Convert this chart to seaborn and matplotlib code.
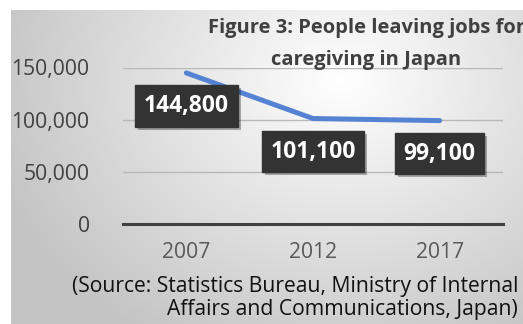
import numpy as np
import pandas as pd
import matplotlib
matplotlib.use("Agg")
import matplotlib.pyplot as plt
import seaborn as sns

years = ["2007", "2012", "2017"]
values = [144800, 101100, 99100]
value_labels = ["144,800", "101,100", "99,100"]
ytick_values = [0, 50000, 100000, 150000]
ytick_labels = ["0", "50,000", "100,000", "150,000"]
title_text = "Figure 3: People leaving jobs for\ncaregiving in Japan"
source_text = "(Source: Statistics Bureau, Ministry of Internal\nAffairs and Communications, Japan)"

sns.set_theme(style="white")
plt.rcParams['font.family'] = ['Open Sans', 'DejaVu Sans']

W, H = 523, 324
fig = plt.figure(figsize=(W / 100, H / 100), dpi=100)

# background gradient panel
bg = fig.add_axes([0, 0, 1, 1], zorder=0)
bg.set_axis_off()
yy, xx = np.mgrid[0:H, 0:W]
cx, cy, rx, ry = 340.0, 80.0, 360.0, 300.0
d = np.sqrt(((xx - cx) / rx) ** 2 + ((yy - cy) / ry) ** 2)
g = 1 - 0.23 * np.clip(d, 0, 1)
g[(xx < 11) | (yy < 10)] = 1.0
img = np.dstack([g, g, g])
bg.imshow(img, extent=[0, W, H, 0], aspect="auto", interpolation="bilinear")
bg.set_xlim(0, W)
bg.set_ylim(H, 0)

left = 123 / W
right = 503 / W
bottom = (H - 224) / H
top = (H - 67.5) / H
ax = fig.add_axes([left, bottom, right - left, top - bottom], zorder=1)
ax.patch.set_alpha(0)

df = pd.DataFrame({"year": years, "value": values})
sns.lineplot(data=df, x="year", y="value", ax=ax, color="#5682D4", linewidth=3.6,
             solid_capstyle="round", sort=False)

ax.set_xlim(-0.5, 2.5)
ax.set_ylim(0, 150000)
ax.set_yticks(ytick_values)
ax.set_yticklabels(ytick_labels)
ax.set_xlabel("")
ax.set_ylabel("")
for s in ["top", "right", "left"]:
    ax.spines[s].set_visible(False)
ax.spines["bottom"].set_color("#404040")
ax.spines["bottom"].set_linewidth(2.2)
ax.spines["bottom"].set_zorder(3)
ax.yaxis.grid(True, color="#b8b8b8", linewidth=1.0)
ax.set_axisbelow(True)
ax.tick_params(axis="y", length=0, pad=24, labelsize=15.2, labelcolor="#404040")
ax.tick_params(axis="x", which="major", length=0, pad=13, labelsize=15.2, labelcolor="#595959")
ax.set_xticks([-0.5, 0.5, 1.5, 2.5], minor=True)
ax.tick_params(axis="x", which="minor", direction="out", length=4, width=2.2, color="#404040")

for i, (v, lab) in enumerate(zip(values, value_labels)):
    # shadow
    ax.annotate(lab, xy=(i, v), xytext=(3, -36), textcoords="offset pixels",
                ha="center", va="center", fontsize=16.5, fontweight="bold", color=(0, 0, 0, 0),
                bbox=dict(boxstyle="square,pad=0.38", facecolor="black", edgecolor="none", alpha=0.3),
                zorder=4, annotation_clip=False)
    ax.annotate(lab, xy=(i, v), xytext=(0, -33), textcoords="offset pixels",
                ha="center", va="center", fontsize=16.5, fontweight="bold", color="white",
                bbox=dict(boxstyle="square,pad=0.38", facecolor="#333333", edgecolor="#333333"),
                zorder=5, annotation_clip=False)

fig.text(366 / W, 1 - 44 / H, title_text, ha="center", va="center", fontsize=14.5,
         fontweight="bold", color="#404040", linespacing=1.75, zorder=6)
fig.text(518 / W, 1 - 298 / H, source_text, ha="right", va="center", fontsize=15.2,
         color="#111111", linespacing=1.1, multialignment="right", zorder=6)

fig.savefig("out.png", dpi=100)
